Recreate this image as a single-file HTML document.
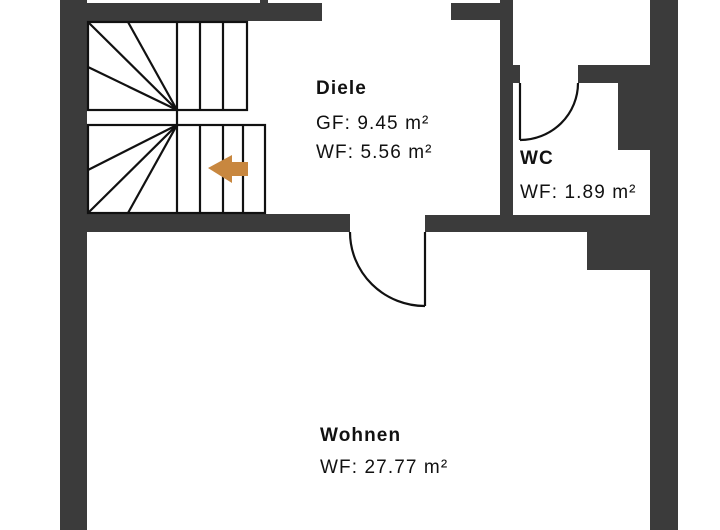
<!DOCTYPE html>
<html><head><style>
html,body{margin:0;padding:0;background:#fff;}
svg{display:block;}
text{font-family:"Liberation Sans","DejaVu Sans",sans-serif;fill:#111;letter-spacing:1.1px;}
</style></head><body>
<svg width="720" height="530" viewBox="0 0 720 530" xmlns="http://www.w3.org/2000/svg">
<g fill="#3b3b3b">
<rect x="60" y="0" width="27" height="530"/>
<rect x="650" y="0" width="28" height="530"/>
<rect x="60" y="3" width="262" height="18"/>
<rect x="260" y="0" width="8" height="5"/>
<rect x="451" y="3" width="62" height="17"/>
<rect x="500" y="0" width="13" height="232"/>
<rect x="60" y="214" width="290" height="18"/>
<rect x="425" y="215" width="225" height="17"/>
<rect x="513" y="65" width="7" height="18"/>
<rect x="578" y="65" width="72" height="18"/>
<rect x="618" y="83" width="32" height="67"/>
<rect x="587" y="232" width="63" height="38"/>
</g>
<g stroke="#111" stroke-width="2.2" fill="none">
<rect x="88" y="22" width="159" height="88"/>
<line x1="177" y1="22" x2="177" y2="110"/>
<line x1="200" y1="22" x2="200" y2="110"/>
<line x1="223" y1="22" x2="223" y2="110"/>
<line x1="177" y1="110" x2="88" y2="22"/>
<line x1="177" y1="110" x2="128" y2="22"/>
<line x1="177" y1="110" x2="88" y2="67"/>
<line x1="177" y1="110" x2="177" y2="125"/>
<rect x="88" y="125" width="177" height="88"/>
<line x1="177" y1="125" x2="177" y2="213"/>
<line x1="200" y1="125" x2="200" y2="213"/>
<line x1="223" y1="125" x2="223" y2="213"/>
<line x1="243" y1="125" x2="243" y2="213"/>
<line x1="177" y1="125" x2="88" y2="170"/>
<line x1="177" y1="125" x2="88" y2="213"/>
<line x1="177" y1="125" x2="128" y2="213"/>
<line x1="425" y1="232" x2="425" y2="306"/>
<path d="M350 232 A75 74 0 0 0 425 306"/>
<line x1="520" y1="83" x2="520" y2="140"/>
<path d="M578 83 A58 57 0 0 1 520 140"/>
</g>
<polygon points="208,168 232,155 232,162 248,162 248,176 232,176 232,183" fill="#c8873f"/>
<text x="316" y="94" font-size="19" font-weight="bold">Diele</text>
<text x="316" y="129" font-size="19">GF: 9.45 m²</text>
<text x="316" y="158" font-size="19">WF: 5.56 m²</text>
<text x="520" y="164" font-size="19" font-weight="bold">WC</text>
<text x="520" y="198" font-size="19">WF: 1.89 m²</text>
<text x="320" y="441" font-size="19" font-weight="bold">Wohnen</text>
<text x="320" y="473" font-size="19">WF: 27.77 m²</text>
</svg>
</body></html>
